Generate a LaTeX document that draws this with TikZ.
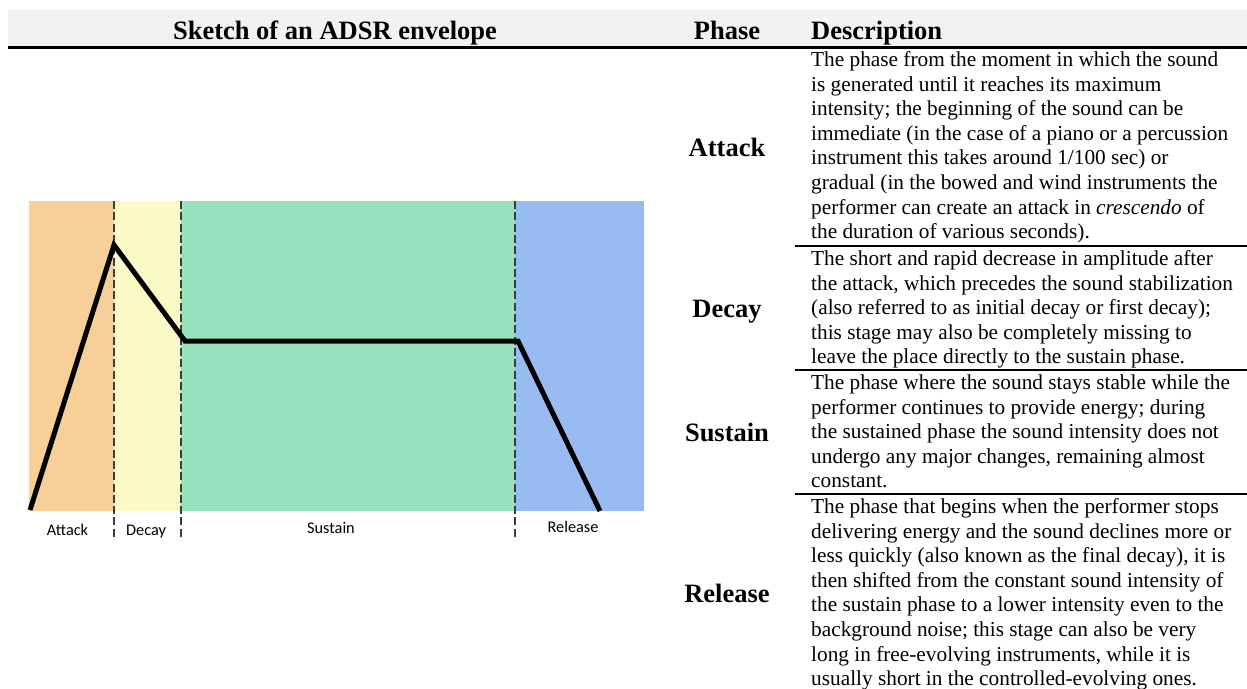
\documentclass[tikz,border=0pt]{standalone}
\usepackage{fontspec}
\setmainfont{Liberation Serif}
\newfontfamily\labfont{Carlito}
\definecolor{headgray}{RGB}{242,242,242}
\definecolor{attackcol}{RGB}{247,207,152}
\definecolor{decaycol}{RGB}{252,250,198}
\definecolor{sustaincol}{RGB}{152,227,190}
\definecolor{releasecol}{RGB}{152,188,242}
\definecolor{dashgray}{RGB}{60,60,60}
\newcommand\descfont{\fontsize{21.3}{24.6}\selectfont}
\begin{document}
\begin{tikzpicture}[x=1pt,y=-1pt,
  hdr/.style={font=\fontsize{26.5}{30}\selectfont\bfseries, inner sep=0, anchor=base},
  phaselab/.style={font=\fontsize{26.5}{30}\selectfont\bfseries, inner sep=0, anchor=base},
  desc/.style={anchor=base west, inner sep=0},
  seglab/.style={font=\labfont\fontsize{16.3}{19}\selectfont, inner sep=0, anchor=base},
  divider/.style={draw=dashgray, line width=2.3pt, dash pattern=on 8pt off 3.3pt},
  rowrule/.style={line width=2pt},
  env/.style={line width=5pt, line join=miter}
]
\useasboundingbox (0,0) rectangle (1247,688);

% header band and rule
\fill[headgray] (8,10) rectangle (1247,47);
\draw[line width=2.5pt] (8,47.5) -- (1247,47.5);
\node[hdr] (hsketch) at (335,39) {Sketch of an ADSR envelope};
\node[hdr] (hphase) at (727,39) {Phase};
\node[hdr, anchor=base west] (hdesc) at (811,39) {Description};

% coloured phase bands of the envelope sketch
\fill[attackcol]  (29,201) rectangle (114,511);
\fill[decaycol]   (114,201) rectangle (181,511);
\fill[sustaincol] (181,201) rectangle (515,511);
\fill[releasecol] (515,201) rectangle (644,511);

% dashed phase boundaries
\draw[divider] (114,201) -- (114,540);
\draw[divider] (181,201) -- (181,540);
\draw[divider] (515,201) -- (515,540);

% envelope curve
\coordinate (e0) at (30,510);
\coordinate (e1) at (114,245);
\coordinate (e2) at (185,341);
\coordinate (e3) at (518,341);
\coordinate (e4) at (600,511);
\draw[env] (e0) -- (e1) -- (e2) -- (e3) -- (e4);

% band labels
\node[seglab] (lA) at (67.5,535) {Attack};
\node[seglab] (lD) at (146,535) {Decay};
\node[seglab] (lS) at (331,533) {Sustain};
\node[seglab] (lR) at (573,532) {Release};

% table rules
\draw[rowrule] (795,246) -- (1247,246);
\draw[rowrule] (795,370) -- (1247,370);
\draw[rowrule] (795,494) -- (1247,494);

% phase names
\node[phaselab] (pA) at (727,156) {Attack};
\node[phaselab] (pD) at (727,317) {Decay};
\node[phaselab] (pS) at (727,441) {Sustain};
\node[phaselab] (pR) at (727,602) {Release};

% descriptions
\node[desc] (dA) at (811,66.5) {\descfont\begin{tabular}[t]{@{}l@{}}
The phase from the moment in which the sound\\
is generated until it reaches its maximum\\
intensity; the beginning of the sound can be\\
immediate (in the case of a piano or a percussion\\
instrument this takes around 1/100 sec) or\\
gradual (in the bowed and wind instruments the\\
performer can create an attack in \textit{crescendo} of\\
the duration of various seconds).
\end{tabular}};

\node[desc] (dD) at (811,265.5) {\descfont\begin{tabular}[t]{@{}l@{}}
The short and rapid decrease in amplitude after\\
the attack, which precedes the sound stabilization\\
(also referred to as initial decay or first decay);\\
this stage may also be completely missing to\\
leave the place directly to the sustain phase.
\end{tabular}};

\node[desc] (dS) at (811,389.5) {\descfont\begin{tabular}[t]{@{}l@{}}
The phase where the sound stays stable while the\\
performer continues to provide energy; during\\
the sustained phase the sound intensity does not\\
undergo any major changes, remaining almost\\
constant.
\end{tabular}};

\node[desc] (dR) at (811,513.5) {\descfont\begin{tabular}[t]{@{}l@{}}
The phase that begins when the performer stops\\
delivering energy and the sound declines more or\\
less quickly (also known as the final decay), it is\\
then shifted from the constant sound intensity of\\
the sustain phase to a lower intensity even to the\\
background noise; this stage can also be very\\
long in free-evolving instruments, while it is\\
usually short in the controlled-evolving ones.
\end{tabular}};
\end{tikzpicture}
\end{document}
